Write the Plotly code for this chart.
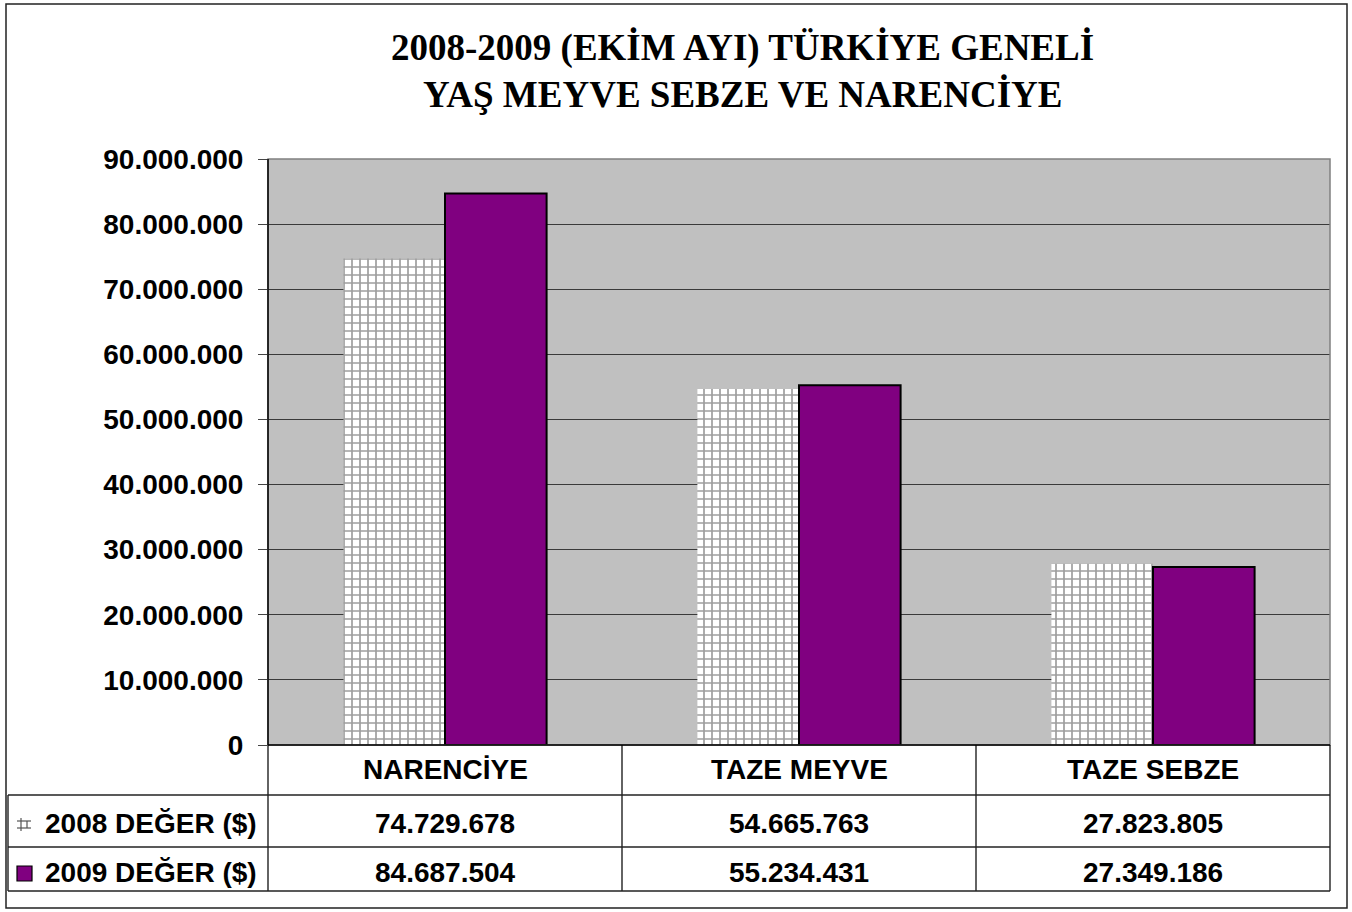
import plotly.graph_objects as go

# data
categories = ["NARENCİYE", "TAZE MEYVE", "TAZE SEBZE"]
values_2008 = [74729678, 54665763, 27823805]
values_2009 = [84687504, 55234431, 27349186]
series_names = ["2008 DEĞER ($)", "2009 DEĞER ($)"]
y_ticks = list(range(0, 90000001, 10000000))
title_lines = ["2008-2009 (EKİM AYI) TÜRKİYE GENELİ", "YAŞ MEYVE SEBZE VE NARENCİYE"]

W, H = 1352, 912
L, R, T, B = 268, 1330, 159, 745  # plot area in pixels


def px_x(p):
    return (p - L) / (R - L)


def px_y(p):
    return (B - p) / (B - T)


def fmt(v):
    return f"{v:,}".replace(",", ".")


SANS = "Liberation Sans, Arial, sans-serif"
SERIF = "Liberation Serif, Times New Roman, serif"

fig = go.Figure()
fig.add_bar(
    x=categories, y=values_2008, name=series_names[0],
    marker=dict(color="white", line=dict(width=0),
                pattern=dict(shape="+", fgcolor="#3c3c3c", bgcolor="white", size=8, solidity=0.38)),
)
fig.add_bar(
    x=categories, y=values_2009, name=series_names[1],
    marker=dict(color="#800080", line=dict(color="black", width=2)),
)

shapes = []
line_style = dict(color="#222222", width=1.4)
# outer frame
shapes.append(dict(type="rect", xref="paper", yref="paper", x0=px_x(6), x1=px_x(1347),
                   y0=px_y(908), y1=px_y(4), line=dict(color="#222222", width=1.5)))
# plot area frame
shapes.append(dict(type="rect", xref="paper", yref="paper", x0=0, x1=1, y0=0, y1=1,
                   line=dict(color="#808080", width=1.5), layer="above"))
# table rows
row_lines = [795, 847, 891]
for r in row_lines:
    shapes.append(dict(type="line", xref="paper", yref="paper", x0=px_x(8), x1=1,
                       y0=px_y(r), y1=px_y(r), line=line_style))
# table columns
n = len(categories)
for i in range(n + 1):
    shapes.append(dict(type="line", xref="paper", yref="paper", x0=i / n, x1=i / n,
                       y0=0, y1=px_y(891), line=line_style))
shapes.append(dict(type="line", xref="paper", yref="paper", x0=px_x(8), x1=px_x(8),
                   y0=px_y(795), y1=px_y(891), line=line_style))
# axis lines
shapes.append(dict(type="line", xref="paper", yref="paper", x0=0, x1=1, y0=0, y1=0,
                   line=dict(color="black", width=1.5), layer="above"))
shapes.append(dict(type="line", xref="paper", yref="paper", x0=0, x1=0, y0=0, y1=1,
                   line=dict(color="black", width=1.5), layer="above"))

# legend keys in the table
shapes.append(dict(type="rect", xref="paper", yref="paper", x0=px_x(17), x1=px_x(32),
                   y0=px_y(881), y1=px_y(866), fillcolor="#800080", line=dict(color="black", width=1.2)))
key_line = dict(color="#555555", width=1.2)
shapes.append(dict(type="line", xref="paper", yref="paper", x0=px_x(17), x1=px_x(31),
                   y0=px_y(821), y1=px_y(821), line=key_line))
shapes.append(dict(type="line", xref="paper", yref="paper", x0=px_x(17), x1=px_x(31),
                   y0=px_y(828), y1=px_y(828), line=key_line))
shapes.append(dict(type="line", xref="paper", yref="paper", x0=px_x(21), x1=px_x(21),
                   y0=px_y(818), y1=px_y(831), line=key_line))
shapes.append(dict(type="line", xref="paper", yref="paper", x0=px_x(27), x1=px_x(27),
                   y0=px_y(821), y1=px_y(828), line=key_line))

annotations = []
# title
for text, yc in zip(title_lines, [48, 95]):
    annotations.append(dict(text=f"<b>{text}</b>", xref="paper", yref="paper", x=px_x(742), y=px_y(yc),
                            xanchor="center", yanchor="middle", showarrow=False,
                            font=dict(family=SERIF, size=37, color="black")))
# table text
tfont = dict(family=SANS, size=28, color="black", weight="bold")
for cat, v8, v9 in zip(categories, values_2008, values_2009):
    annotations.append(dict(text=cat, xref="x", yref="paper", x=cat, y=px_y(769),
                            xanchor="center", yanchor="middle", showarrow=False, font=tfont))
    annotations.append(dict(text=fmt(v8), xref="x", yref="paper", x=cat, y=px_y(823),
                            xanchor="center", yanchor="middle", showarrow=False, font=tfont))
    annotations.append(dict(text=fmt(v9), xref="x", yref="paper", x=cat, y=px_y(872),
                            xanchor="center", yanchor="middle", showarrow=False, font=tfont))
for name, yc in zip(series_names, [823, 872]):
    annotations.append(dict(text=name, xref="paper", yref="paper", x=px_x(259), y=px_y(yc),
                            xanchor="right", yanchor="middle", showarrow=False, font=tfont))

fig.update_layout(
    width=W, height=H,
    margin=dict(l=L, r=W - R, t=T, b=H - B),
    paper_bgcolor="white",
    plot_bgcolor="#c0c0c0",
    separators=",.",
    barmode="group",
    bargap=0.426,
    bargroupgap=0,
    showlegend=False,
    shapes=shapes,
    annotations=annotations,
    xaxis=dict(showticklabels=False, ticks="", showgrid=False, showline=False, zeroline=False),
    yaxis=dict(range=[0, 90000000], tickvals=y_ticks, tickformat=",d",
               ticks="outside", ticklen=9, tickcolor="#444444", ticklabelstandoff=9,
               showgrid=True, gridcolor="#3a3a3a", gridwidth=1, zeroline=False, showline=False,
               tickfont=dict(family=SANS, size=28, color="black", weight="bold")),
    font=dict(family=SANS),
)

fig.write_html("out.html", config={"displayModeBar": False},
               post_script="document.body.style.margin='0';")
